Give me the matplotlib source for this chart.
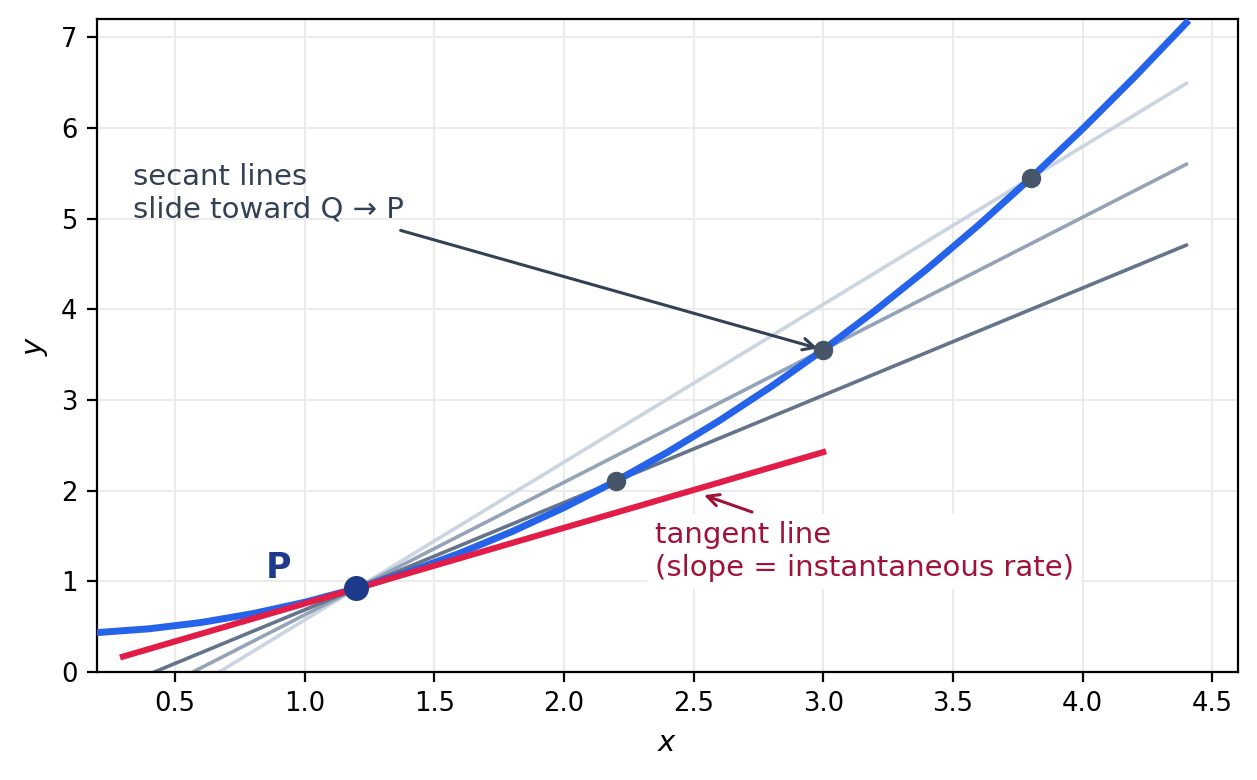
import matplotlib.pyplot as plt
import numpy as np

# curve values
curve_x = [0.2, 0.4, 0.6, 0.8, 1.0, 1.2, 1.4, 1.6, 1.8, 2.0, 2.2,
           2.4, 2.6, 2.8, 3.0, 3.2, 3.4, 3.6, 3.8, 4.0, 4.2, 4.4]
curve_y = [0.434, 0.476, 0.545, 0.643, 0.768, 0.921, 1.102, 1.311, 1.548, 1.812, 2.104,
           2.424, 2.772, 3.148, 3.552, 3.984, 4.443, 4.930, 5.445, 5.988, 6.559, 7.157]

p_x, p_y = 1.2, 0.921
q_x = [3.8, 3.0, 2.2]
q_y = [5.445, 3.552, 2.104]
secant_colors = ['#cbd5e1', '#94a3b8', '#64748b']

tangent_slope = 0.835
tangent_x = [0.3, 3.0]

fig, ax = plt.subplots(figsize=(6.285, 3.9), dpi=200)
fig.subplots_adjust(left=0.0772, right=0.985, bottom=0.1385, top=0.9756)

# secant lines through P and each Q
sx = np.array([0.2, 4.4])
for qx, qy, c in zip(q_x, q_y, secant_colors):
    m = (qy - p_y) / (qx - p_x)
    ax.plot(sx, p_y + m * (sx - p_x), color=c, lw=1.3, zorder=2)

ax.plot(curve_x, curve_y, color='#2563eb', lw=2.5, zorder=3)

tx = np.array(tangent_x)
ax.plot(tx, p_y + tangent_slope * (tx - p_x), color='#e11d48', lw=2.2, zorder=4)

ax.plot(q_x, q_y, 'o', color='#475569', ms=6, zorder=5)
ax.plot([p_x], [p_y], 'o', color='#1e3a8a', ms=8, zorder=6)
ax.text(0.9, 1.15, 'P', color='#1e3a8a', fontsize=12.5, fontweight='bold',
        ha='center', va='center')

ax.annotate('secant lines\nslide toward Q \u2192 P', xy=(3.0, 3.552), xytext=(0.34, 5.28),
            ha='left', va='center', fontsize=10.5, color='#334155',
            arrowprops=dict(arrowstyle='->', color='#334155', lw=1.1))
ax.annotate('tangent line\n(slope = instantaneous rate)', xy=(2.52, 1.97), xytext=(2.35, 1.33),
            ha='left', va='center', fontsize=10.5, color='#9f1239',
            bbox=dict(boxstyle='square,pad=0.25', fc='white', ec='none'),
            arrowprops=dict(arrowstyle='->', color='#9f1239', lw=1.1))

ax.set_xlim(0.2, 4.6)
ax.set_ylim(0, 7.2)
ax.set_xticks(np.arange(0.5, 4.51, 0.5))
ax.set_yticks(range(0, 8))
ax.tick_params(labelsize=9.3)
ax.set_xlabel('$x$', fontsize=10.5)
ax.set_ylabel('$y$', fontsize=10.5)
ax.grid(True, color='#ebebeb', lw=0.7)
ax.set_axisbelow(True)

fig.savefig('out.png', dpi=200)
